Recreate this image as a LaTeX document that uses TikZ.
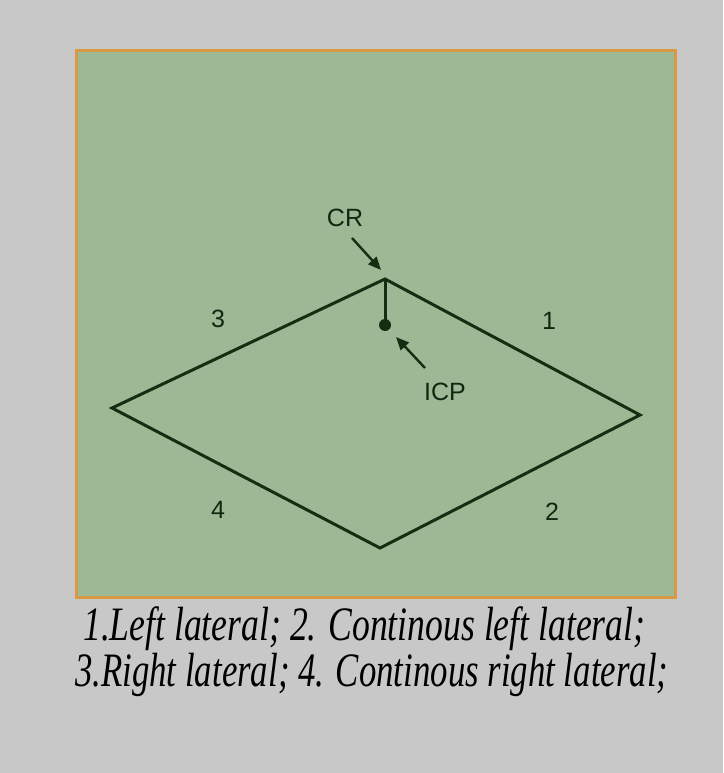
\documentclass[tikz,border=0pt]{standalone}
\usepackage{fontspec}
\usepackage{graphicx}
\setmainfont{Liberation Serif}
\newfontfamily\lblfont{Liberation Sans}
\usetikzlibrary{arrows.meta}
\definecolor{bggray}{HTML}{C8C8C8}
\definecolor{panelgreen}{HTML}{9DB895}
\definecolor{frameorange}{HTML}{D99A45}
\definecolor{inkgreen}{HTML}{142E14}
\tikzset{
  edge/.style={draw=inkgreen, line width=3pt, line join=miter},
  lbl/.style={font=\lblfont\fontsize{25}{26}\selectfont, text=inkgreen!85!black, inner sep=0pt},
  pointer/.style={draw=inkgreen, line width=2.4pt, -{Triangle[length=13pt,width=11pt]}},
  caption/.style={anchor=base west, inner sep=0pt, align=left, font=\itshape\fontsize{48}{46}\selectfont}
}
\begin{document}
\begin{tikzpicture}[x=1pt,y=1pt]
\fill[bggray] (0,0) rectangle (723,-773);
\useasboundingbox (0,0) rectangle (723,-773);
\filldraw[fill=panelgreen, draw=frameorange, line width=3pt] (76,-51) rectangle (675,-597);
\coordinate (T) at (385,-279);
\coordinate (R) at (640,-415);
\coordinate (B) at (380,-548);
\coordinate (L) at (112,-408);
\draw[edge] (T) -- (R) -- (B) -- (L) -- cycle;
\node[circle, fill=inkgreen, inner sep=0pt, minimum size=12pt] (icpdot) at (385,-325) {};
\draw[edge] (T) -- (icpdot.center);
\node[lbl] (cr) at (345,-218) {CR};
\node[lbl] (icp) at (445,-392) {ICP};
\coordinate (crtail) at (352,-238);
\coordinate (crhead) at (381,-270);
\draw[pointer] (crtail) -- (crhead);
\coordinate (icptail) at (425,-368);
\coordinate (icphead) at (396,-337);
\draw[pointer] (icptail) -- (icphead);
\node[lbl] (n3) at (218,-319) {3};
\node[lbl] (n1) at (549,-321) {1};
\node[lbl] (n4) at (218,-510) {4};
\node[lbl] (n2) at (552,-512) {2};
\node[caption] (cap) at (75,-686) {\hspace{8pt}\resizebox{562pt}{\height}{1.Left lateral; 2. Continous left lateral;}\\\resizebox{593pt}{\height}{3.Right lateral; 4. Continous right lateral;}};
\end{tikzpicture}
\end{document}
